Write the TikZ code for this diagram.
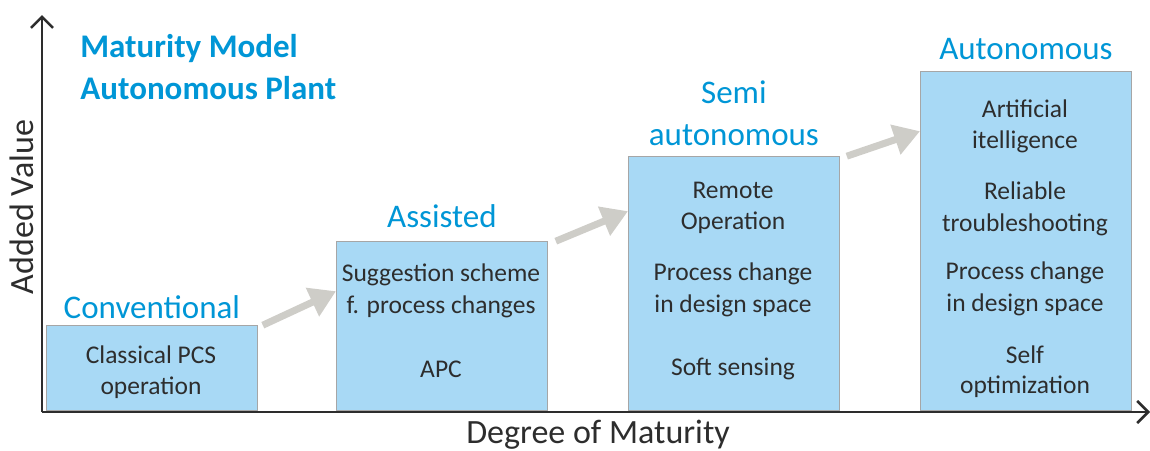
\documentclass[tikz,border=0pt]{standalone}
\usepackage{fontspec}
\setmainfont{Carlito}
\usetikzlibrary{positioning,arrows.meta}
\definecolor{plantblue}{RGB}{0,150,214}
\definecolor{boxblue}{RGB}{168,217,245}
\definecolor{arrowgray}{RGB}{206,205,200}
\definecolor{textgray}{RGB}{45,45,45}

\begin{document}
\begin{tikzpicture}[x=1pt,y=-1pt,thick,
    main node/.style={draw=gray!70,line width=0.8pt,fill=boxblue,minimum width=211pt,inner sep=0pt,anchor=south west},
    level node/.style={font=\fontsize{33}{36}\selectfont,text=plantblue,inner sep=0pt,anchor=base},
    item node/.style={font=\fontsize{25.5}{32}\selectfont,text=textgray,inner sep=0pt,anchor=base},
    title node/.style={font=\fontsize{33}{40}\selectfont\bfseries,text=plantblue,inner sep=0pt,anchor=base west},
    axis line/.style={draw=textgray,line width=2.6pt,-{Straight Barb[length=11pt,width=22pt]}},
    step arrow/.style={draw=arrowgray,fill=arrowgray,line width=7pt,-{Triangle[length=26pt,width=30pt]}}]
    \useasboundingbox (0,0) rectangle (1150,450);

    % axes
    \coordinate (O) at (42,412);
    \coordinate (ytop) at (42,15);
    \coordinate (xend) at (1150,412);
    \draw[axis line] (O) -- (ytop);
    \draw[axis line] (O) -- (xend);
    \node[font=\fontsize{34}{40}\selectfont,text=textgray,rotate=90] (yl) at (22,207) {Added Value};
    \node[font=\fontsize{34}{40}\selectfont,text=textgray,anchor=base] (xl) at (598,443) {Degree of Maturity};

    \node[title node] (t1) at (80,57) {Maturity Model};
    \node[title node] (t2) at (80,99) {Autonomous Plant};

    % stages
    \node[main node,minimum height=85pt] (1) at (46,411) {};
    \node[main node,minimum height=169pt] (2) at (336,411) {};
    \node[main node,minimum height=254pt] (3) at (628,411) {};
    \node[main node,minimum height=339pt] (4) at (920,411) {};

    \node[level node] (l1) [above=7pt of 1,anchor=base] {Conventional};
    \node[level node] (l2) [above=14pt of 2,anchor=base] {Assisted};
    \node[level node] (l3b) [above=11pt of 3,anchor=base] {autonomous};
    \node[level node] (l3a) [above=42pt of l3b.base,anchor=base] {Semi};
    \node[level node] (l4) [above=12pt of 4,anchor=base] {Autonomous};

    \foreach \x/\y/\t [count=\k] in {151/363/Classical PCS, 151/394/operation,
        441/281/Suggestion scheme, 441/313/f. process changes, 441/377/APC,
        733/198/Remote, 733/229/Operation, 733/280/Process change, 733/312/in design space, 733/375/Soft sensing,
        1025/117/Artificial, 1025/148/itelligence, 1025/199/Reliable, 1025/231/troubleshooting,
        1025/279/Process change, 1025/311/in design space, 1025/363/Self, 1025/393/optimization}
        \node[item node] (item\k) at (\x,\y) {\t};

    % steps
    \draw[step arrow] ([xshift=5pt]1.north east) -- ([yshift=-50pt]2.north west);
    \draw[step arrow] ([xshift=8pt]2.north east) -- ([yshift=-55pt]3.north west);
    \draw[step arrow] ([xshift=7pt]3.north east) -- ([yshift=-60pt]4.north west);
\end{tikzpicture}
\end{document}
